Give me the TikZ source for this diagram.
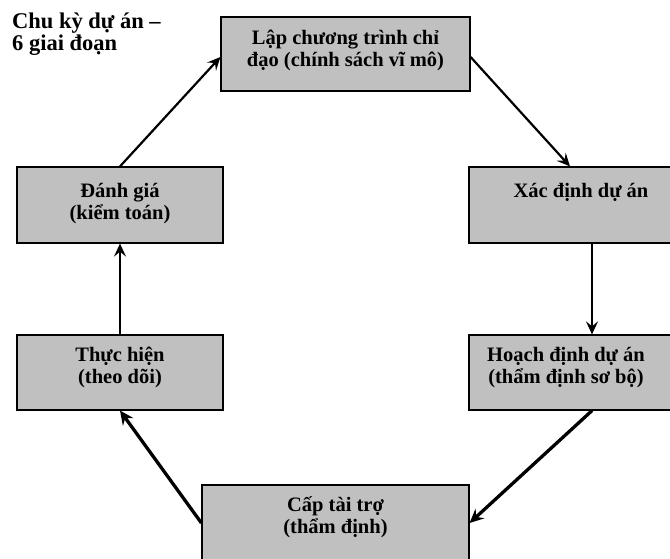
\documentclass[tikz,border=0pt]{standalone}
\usepackage{fontspec}
\setmainfont{Liberation Serif}
\usepackage{tikz}
\usetikzlibrary{calc,arrows.meta}
\definecolor{stagegray}{HTML}{C0C0C0}

\begin{document}
\begin{tikzpicture}[
    x=1pt, y=-1pt,
    stage/.style={draw=black, line width=1.2pt, fill=stagegray, inner sep=0pt,
      minimum width=206pt, minimum height=76pt},
    stagetext/.style={anchor=base, align=center, inner sep=0pt,
      font=\fontsize{20.5}{22}\selectfont\bfseries},
    flow/.style={line width=2.2pt, -{Stealth[length=13pt,width=12pt,inset=5pt]}},
    flowthick/.style={line width=3.3pt, -{Stealth[length=14pt,width=13pt,inset=5pt]}},
  ]
  \useasboundingbox[fill=white] (0,0) rectangle (670,559);

  % --- title (base = last line) ---
  \node[stagetext, anchor=base west, align=left,
        font=\fontsize{22.5}{22}\selectfont\bfseries] (title) at (12,51)
    {Chu kỳ dự án –\\6 giai đoạn};

  % --- the six stages ---
  \node[stage, minimum width=249pt, minimum height=74pt] (lap) at (345.5,54) {};
  \node[stage] (danhgia) at (120,205) {};
  \node[stage] (xacdinh) at (572,205) {};
  \node[stage, minimum height=75pt] (thuchien) at (120,372.5) {};
  \node[stage, minimum height=75pt] (hoachdinh) at (572,372.5) {};
  \node[stage, minimum width=267pt] (captaitro) at (335.5,523) {};

  % text hangs from the top of each box (base = last line)
  \node[stagetext] (t-lap) at ([yshift=-50pt]lap.north)
    {Lập chương trình chỉ\\đạo (chính sách vĩ mô)};
  \node[stagetext] (t-danhgia) at ([yshift=-53pt]danhgia.north)
    {Đánh giá\\(kiểm toán)};
  \node[stagetext] (t-xacdinh) at ([xshift=9pt,yshift=-31pt]xacdinh.north)
    {Xác định dự án};
  \node[stagetext] (t-thuchien) at ([yshift=-49pt]thuchien.north)
    {Thực hiện\\(theo dõi)};
  \node[stagetext] (t-hoachdinh) at ([xshift=-6pt,yshift=-49pt]hoachdinh.north)
    {Hoạch định dự án\\(thẩm định sơ bộ)};
  \node[stagetext] (t-captaitro) at ([yshift=-49pt]captaitro.north)
    {Cấp tài trợ\\(thẩm định)};

  % --- cycle ---
  \draw[flow] (danhgia.north) -- ([yshift=-3pt]lap.west);
  \draw[flow] ([yshift=-3pt]lap.east) -- ([xshift=-2pt]xacdinh.north);
  \draw[flow] ([xshift=20pt]xacdinh.south) -- ([xshift=20pt]hoachdinh.north);
  \draw[flowthick] ([xshift=20pt]hoachdinh.south) -- (captaitro.east);
  \draw[flowthick] (captaitro.west) -- (thuchien.south);
  \draw[flow] (thuchien.north) -- (danhgia.south);
\end{tikzpicture}
\end{document}
